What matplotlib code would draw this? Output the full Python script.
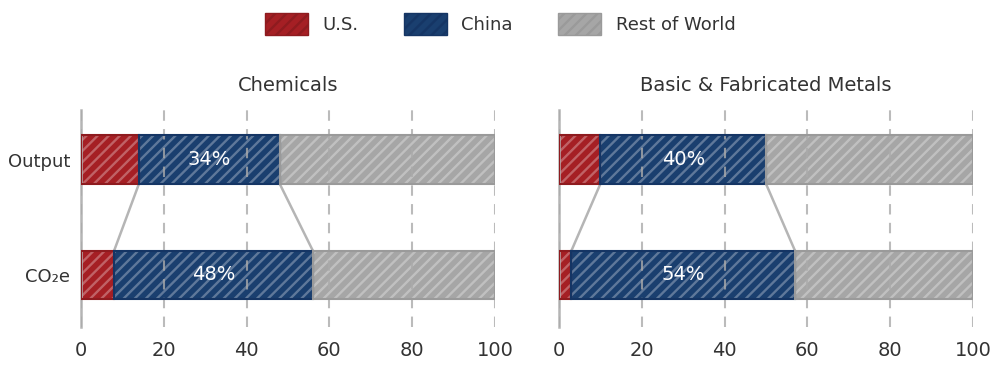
import matplotlib.pyplot as plt
from matplotlib.patches import Patch

# shares in percent
panels = ['Chemicals', 'Basic & Fabricated Metals']
rows = ['CO\u2082e', 'Output']
us = [[8, 14], [3, 10]]
china = [[48, 34], [54, 40]]
rest = [[100 - 8 - 48, 100 - 14 - 34], [100 - 3 - 54, 100 - 10 - 40]]

series = ['U.S.', 'China', 'Rest of World']
fills = ['#a51f24', '#1a3f6f', '#a6a6a6']
edges = ['#8e1b1f', '#153564', '#9a9a9a']
txt = '#333333'

plt.rcParams['font.family'] = 'DejaVu Sans'
plt.rcParams['hatch.linewidth'] = 1.7

fig = plt.figure(figsize=(10, 3.68), dpi=100)
axes = [fig.add_axes([0.081, 0.112, 0.414, 0.589]),
        fig.add_axes([0.559, 0.112, 0.414, 0.589])]

ypos = [0, 1]
h = 0.42

for k, ax in enumerate(axes):
    left = [0, 0]
    segs = [us[k], china[k], rest[k]]
    for s, vals in enumerate(segs):
        # fill with light hatch, then a dark outline
        ax.barh(ypos, vals, left=left, height=h, color=fills[s],
                edgecolor=(1, 1, 1, 0.3), hatch='///', linewidth=0, zorder=2)
        ax.barh(ypos, vals, left=left, height=h, color='none',
                edgecolor=edges[s], linewidth=1.5, zorder=3)
        left = [left[i] + vals[i] for i in range(2)]

    # china percent labels
    for i in range(2):
        ax.text(us[k][i] + china[k][i] / 2, ypos[i], '%d%%' % china[k][i],
                color='white', ha='center', va='center', fontsize=14, zorder=5)

    # connector lines between china segments
    for side in range(2):
        x_out = us[k][1] + side * china[k][1]
        x_co = us[k][0] + side * china[k][0]
        ax.plot([x_out, x_co], [1 - h / 2, h / 2], color='#b5b5b5', lw=1.8,
                zorder=1)

    ax.set_xlim(0, 100)
    ax.set_ylim(-0.45, 1.43)
    ax.set_xticks([0, 20, 40, 60, 80, 100])
    ax.grid(axis='x', linestyle=(0, (5, 4)), color='#aaaaaa', lw=1.5,
            alpha=0.8, zorder=4)
    ax.set_axisbelow(False)
    for sp in ['top', 'right', 'bottom']:
        ax.spines[sp].set_visible(False)
    ax.spines['left'].set_color('#b5b5b5')
    ax.spines['left'].set_linewidth(1.8)
    ax.tick_params(axis='x', length=0, labelsize=14, labelcolor=txt, pad=10)
    ax.tick_params(axis='y', length=0, labelsize=13, labelcolor=txt, pad=8)
    ax.set_yticks(ypos)
    if k == 0:
        ax.set_yticklabels(rows)
    else:
        ax.set_yticklabels([])
    ax.set_title(panels[k], fontsize=14, color=txt, pad=14)

handles = [Patch(facecolor=fills[s], edgecolor=edges[s], hatch='///')
           for s in range(3)]
leg = fig.legend(handles, series, loc='upper center', ncol=3, frameon=False,
                 bbox_to_anchor=(0.5, 1.01), fontsize=13, handlelength=2.4,
                 handleheight=1.5, columnspacing=2.5, labelcolor=txt)

plt.savefig('out.png', dpi=100)
